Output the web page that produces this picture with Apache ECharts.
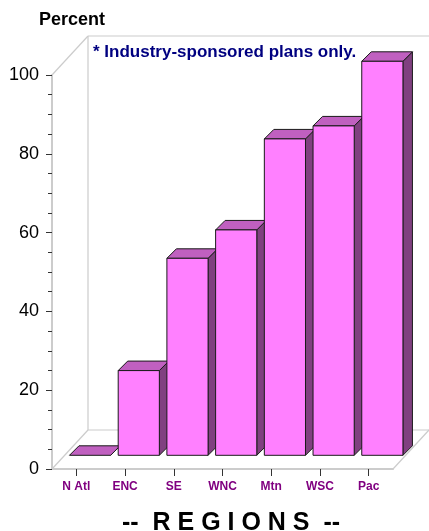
<!DOCTYPE html>
<html><head><meta charset="utf-8">
<style>html,body{margin:0;padding:0;background:#fff}#c{width:429px;height:531px}</style>
<script src="https://cdn.jsdelivr.net/npm/echarts@6/dist/echarts.min.js"></script>
</head><body><div id="c"></div>
<script>
var categories = ['N Atl','ENC','SE','WNC','Mtn','WSC','Pac'];
var percentValues = [0, 21.5, 50, 57.2, 80.3, 83.6, 100];
var tickValues = [0, 20, 40, 60, 80, 100];
var FONT = '"Liberation Sans", Arial, sans-serif';
var FACE = '#ff80ff', TOP = '#c060c0', SIDE = '#804080', EDGE = '#1a1a1a', WALL = '#cccccc';

var chart = echarts.init(document.getElementById('c'), null, {renderer:'canvas'});

function renderWalls(params, api) {
  var cs = params.coordSys, dx = 36, dy = -39;
  var x0 = cs.x, x1 = cs.x + cs.width, yT = cs.y, yB = cs.y + cs.height;
  var ls = {stroke: WALL, lineWidth: 1.2, fill: null};
  function seg(a, b, c, d) { return {type:'line', shape:{x1:a,y1:b,x2:c,y2:d}, style:ls, silent:true}; }
  return {type:'group', children:[
    seg(x0, yT, x0+dx, yT+dy),
    seg(x0+dx, yT+dy, x1+dx, yT+dy),
    seg(x0+dx, yT+dy, x0+dx, yB+dy),
    seg(x0+dx, yB+dy, x1+dx, yB+dy),
    seg(x0, yB, x0+dx, yB+dy),
    seg(x1, yB, x1+dx, yB+dy)
  ]};
}

function renderBar(params, api) {
  var off = 13.7, dep = 9.5;
  var base = api.coord([api.value(0), 0]);
  var top = api.coord([api.value(0), api.value(1)]);
  var w = api.size([1, 0])[0] * 0.845;
  var l = base[0] + off - w/2, r = l + w;
  var b = base[1] - off, t = top[1] - off;
  var st = function (c) { return {fill: c, stroke: EDGE, lineWidth: 1, lineJoin:'miter'}; };
  var kids = [];
  kids.push({type:'polygon', shape:{points:[[r,b],[r+dep,b-dep],[r+dep,t-dep],[r,t]]}, style:st(SIDE)});
  kids.push({type:'polygon', shape:{points:[[l,t],[l+dep,t-dep],[r+dep,t-dep],[r,t]]}, style:st(TOP)});
  if (b - t > 0.5) kids.push({type:'rect', shape:{x:l,y:t,width:w,height:b-t}, style:st(FACE)});
  return {type:'group', children:kids};
}

chart.setOption({
  animation:false,
  backgroundColor:'#fff',
  title:[
    {text:'Percent', left:39, top:11, padding:0, textStyle:{fontFamily:FONT,fontSize:18,lineHeight:18,fontWeight:'bold',color:'#000'}},
    {text:'* Industry-sponsored plans only.', left:93, top:44, padding:0, textStyle:{fontFamily:FONT,fontSize:17,lineHeight:17,fontWeight:'bold',color:'#000080'}},
    {text:'--  R E G I O N S  --', left:231, textAlign:'center', top:511, padding:0, textStyle:{fontFamily:FONT,fontSize:25,lineHeight:25,fontWeight:'bold',color:'#000'}}
  ],
  grid:{left:52, top:75, width:341, height:394, containLabel:false},
  xAxis:{type:'category', data:categories, boundaryGap:true,
    axisLine:{show:true,lineStyle:{color:WALL,width:2}},
    axisTick:{show:true,alignWithLabel:true,length:7,lineStyle:{color:'#333',width:1}},
    axisLabel:{interval:0,margin:12,fontFamily:FONT,fontSize:12,fontWeight:'bold',color:'#800080'},
    splitLine:{show:false}},
  yAxis:{type:'value', min:0, max:100, interval:20,
    axisLine:{show:true,lineStyle:{color:WALL,width:2}},
    axisTick:{show:true,length:6,lineStyle:{color:'#333',width:1}},
    minorTick:{show:true,splitNumber:4,length:4,lineStyle:{color:'#333',width:1}},
    axisLabel:{margin:13,padding:[4,0,0,0],fontFamily:FONT,fontSize:18,color:'#000',
      formatter:function(v){return tickValues.indexOf(v)>=0?String(v):'';}},
    splitLine:{show:false}},
  series:[
    {type:'custom', coordinateSystem:'cartesian2d', renderItem:renderWalls, data:[[0,0]], clip:false, silent:true, z:1},
    {type:'custom', coordinateSystem:'cartesian2d', renderItem:renderBar, encode:{x:0,y:1},
     data:categories.map(function(c,i){return [i, percentValues[i]];}), clip:false, z:2}
  ]
});
</script></body></html>
